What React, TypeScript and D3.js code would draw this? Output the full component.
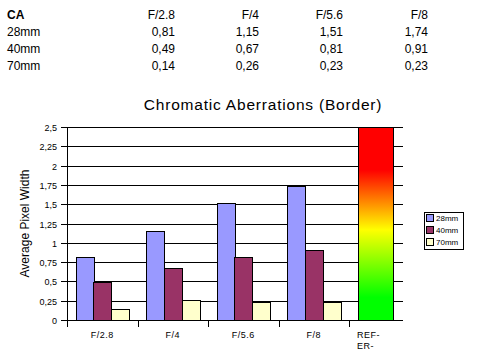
import * as d3 from "d3";

const apertures = ["F/2.8", "F/4", "F/5.6", "F/8"];
const lenses = ["28mm", "40mm", "70mm"];
const values28 = [0.81, 1.15, 1.51, 1.74];
const values40 = [0.49, 0.67, 0.81, 0.91];
const values70 = [0.14, 0.26, 0.23, 0.23];
const lensColors = ["#9999ff", "#993366", "#ffffcc"];
const yTicks = [0, 0.25, 0.5, 0.75, 1, 1.25, 1.5, 1.75, 2, 2.25, 2.5];
const refLabel = "REFER";

const W = 489;
const H = 364;
const margin = { top: 127, left: 67, bottom: 320, right: 403 };
const step = 70.5;

const comma = (v: number) => String(v).replace(".", ",");
const comma2 = (v: number) => v.toFixed(2).replace(".", ",");

export default function App() {
  const rows = lenses.map((lens, i) => ({
    lens,
    color: lensColors[i],
    values: [values28, values40, values70][i],
  }));

  const x = d3
    .scaleBand<string>()
    .domain([...apertures, refLabel])
    .range([margin.left, margin.left + step * 5]);
  const inner = d3
    .scaleBand<string>()
    .domain(lenses)
    .range([0, x.bandwidth()])
    .paddingOuter(0.5);
  const y = d3.scaleLinear().domain([0, 2.5]).range([margin.bottom, margin.top]);

  const tableCols = [175, 259, 343, 428];
  const tableRowY = [19, 36, 53, 70];
  const font = "Arial, 'Liberation Sans', sans-serif";

  return (
    <svg
      width={W}
      height={H}
      style={{ position: "absolute", left: 0, top: 0, background: "#fff" }}
      fontFamily={font}
    >
      <defs>
        <linearGradient id="refgrad" x1="0" y1="0" x2="0" y2="1">
          <stop offset="0%" stopColor="#ff0000" />
          <stop offset="22%" stopColor="#ff0000" />
          <stop offset="53%" stopColor="#ffff00" />
          <stop offset="88%" stopColor="#00ff00" />
          <stop offset="100%" stopColor="#00ff00" />
        </linearGradient>
      </defs>

      {/* table */}
      <text x={7} y={tableRowY[0]} fontSize={12} fontWeight="bold">CA</text>
      {apertures.map((a, j) => (
        <text key={a} x={tableCols[j]} y={tableRowY[0]} fontSize={12} textAnchor="end">
          {a}
        </text>
      ))}
      {rows.map((r, i) => (
        <g key={r.lens}>
          <text x={7} y={tableRowY[i + 1]} fontSize={12}>{r.lens}</text>
          {r.values.map((v, j) => (
            <text key={j} x={tableCols[j]} y={tableRowY[i + 1]} fontSize={12} textAnchor="end">
              {comma2(v)}
            </text>
          ))}
        </g>
      ))}

      {/* title */}
      <text x={263} y={110} fontSize={15.5} letterSpacing={0.8} textAnchor="middle">
        Chromatic Aberrations (Border)
      </text>

      {/* gridlines + y ticks */}
      {yTicks.map((t) => (
        <g key={t}>
          <line
            x1={margin.left - 6}
            x2={margin.right}
            y1={Math.round(y(t)) + 0.5}
            y2={Math.round(y(t)) + 0.5}
            stroke="#000"
          />
          <text
            x={57}
            y={Math.round(y(t)) + 3.5}
            fontSize={9}
            textAnchor="end"
          >
            {comma(t)}
          </text>
        </g>
      ))}

      {/* bars */}
      {apertures.map((a, j) => (
        <g key={a}>
          {rows.map((r) => (
            <rect
              key={r.lens}
              x={Math.round(x(a)! + inner(r.lens)!) + 0.5}
              y={Math.round(y(r.values[j])) + 0.5}
              width={Math.round(inner.bandwidth())}
              height={Math.round(y(0)) - Math.round(y(r.values[j]))}
              fill={r.color}
              stroke="#000"
            />
          ))}
        </g>
      ))}

      {/* reference bar */}
      <rect
        x={Math.round(x(refLabel)! + inner(lenses[0])!) + 0.5}
        y={Math.round(y(2.5)) + 0.5}
        width={Math.round(inner.bandwidth() * 2)}
        height={Math.round(y(0)) - Math.round(y(2.5))}
        fill="url(#refgrad)"
        stroke="#000"
      />

      {/* axes */}
      <line
        x1={margin.left + 0.5}
        x2={margin.left + 0.5}
        y1={margin.top}
        y2={margin.bottom + 7}
        stroke="#000"
      />
      <line
        x1={margin.left}
        x2={margin.right}
        y1={margin.bottom + 0.5}
        y2={margin.bottom + 0.5}
        stroke="#000"
      />
      {[...apertures, refLabel].map((c) => (
        <line
          key={c}
          x1={Math.round(x(c)!) + 0.5}
          x2={Math.round(x(c)!) + 0.5}
          y1={margin.bottom}
          y2={margin.bottom + 7}
          stroke="#000"
        />
      ))}
      {apertures.map((a) => (
        <text
          key={a}
          x={x(a)! + x.bandwidth() / 2}
          y={338}
          fontSize={9}
          letterSpacing={0.5}
          textAnchor="middle"
        >
          {a}
        </text>
      ))}
      <text x={x(refLabel)! + 8} y={338} fontSize={9} letterSpacing={0.5}>REF-</text>
      <text x={x(refLabel)! + 8} y={349} fontSize={9} letterSpacing={0.5}>ER-</text>

      {/* y label */}
      <text
        transform={`translate(29, ${(margin.top + margin.bottom) / 2}) rotate(-90)`}
        fontSize={12}
        textAnchor="middle"
      >
        Average Pixel Width
      </text>

      {/* legend */}
      <rect x={424.5} y={212.5} width={39} height={37} fill="#fff" stroke="#000" />
      {rows.map((r, i) => (
        <g key={r.lens}>
          <rect
            x={426.5}
            y={214.5 + i * 12}
            width={7}
            height={7}
            fill={r.color}
            stroke="#000"
          />
          <text x={436} y={221 + i * 12} fontSize={8}>
            {r.lens}
          </text>
        </g>
      ))}
    </svg>
  );
}
